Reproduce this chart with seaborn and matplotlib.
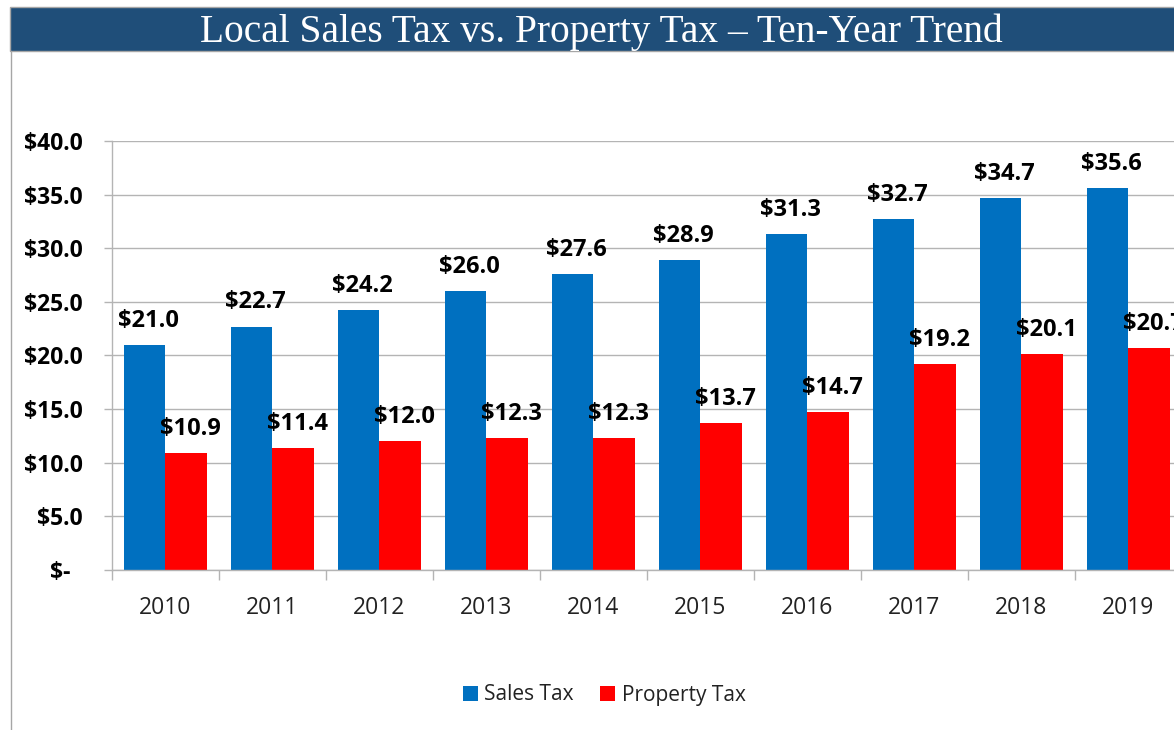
import pandas as pd
import matplotlib
matplotlib.use("Agg")
import matplotlib.pyplot as plt
from matplotlib.patches import Rectangle, Patch
from matplotlib.lines import Line2D
import seaborn as sns

# data
years = ["2010", "2011", "2012", "2013", "2014", "2015", "2016", "2017", "2018", "2019"]
sales_tax = [21.0, 22.7, 24.2, 26.0, 27.6, 28.9, 31.3, 32.7, 34.7, 35.6]
property_tax = [10.9, 11.4, 12.0, 12.3, 12.3, 13.7, 14.7, 19.2, 20.1, 20.7]
series = ["Sales Tax", "Property Tax"]
colors = ["#0070C0", "#FF0000"]
yticks = [0, 5, 10, 15, 20, 25, 30, 35, 40]
ytick_labels = ["\\$-  "] + ["\\$%.1f" % v for v in yticks[1:]]

df = pd.DataFrame({
    "Year": years * 2,
    "Value": sales_tax + property_tax,
    "Series": [series[0]] * len(years) + [series[1]] * len(years),
})

sns.set_theme(style="white")
plt.rcParams["font.family"] = ["Open Sans", "DejaVu Sans"]

fig = plt.figure(figsize=(11.74, 7.30), dpi=100)
ax = fig.add_axes([0.0954, 0.2192, 0.9114, 0.5877])

sns.barplot(data=df, x="Year", y="Value", hue="Series", palette=colors,
            width=0.78, linewidth=0, saturation=1, ax=ax, legend=False)

ax.set_xlim(-0.5, len(years) - 0.5)
ax.set_ylim(0, 40)
ax.set_yticks(yticks)
ax.set_yticklabels(ytick_labels, fontsize=16.5, fontweight="bold", color="black")
ax.yaxis.grid(True, color="#B4B4B4", linewidth=1)
ax.set_axisbelow(True)
ax.tick_params(axis="y", length=6, width=1, color="#B4B4B4", pad=15, direction="out", left=True)

# ticks between categories
ax.set_xticks([i - 0.5 for i in range(len(years) + 1)], minor=True)
ax.tick_params(axis="x", which="minor", length=7.5, width=1, color="#B4B4B4", bottom=True, direction="out")
ax.tick_params(axis="x", which="major", length=0, pad=19, labelsize=16.5, labelcolor="#222222")
ax.set_xlabel("")
ax.set_ylabel("")

for side in ["top", "right"]:
    ax.spines[side].set_visible(False)
for side in ["left", "bottom"]:
    ax.spines[side].set_color("#B4B4B4")
    ax.spines[side].set_linewidth(1)

# value labels
for cont in ax.containers:
    for bar in cont:
        h = bar.get_height()
        ax.annotate("\\$%.1f" % h, (bar.get_x() + bar.get_width() / 2, h),
                    xytext=(3, 13), textcoords="offset points",
                    ha="center", va="baseline", fontsize=17,
                    fontweight="bold", color="black", annotation_clip=False)

# title banner
fig.patches.append(Rectangle((10 / 1174, (730 - 51) / 730), 1.0, 44 / 730,
                             transform=fig.transFigure, facecolor="#1F4E79",
                             edgecolor="#A6A6A6", linewidth=1, zorder=0))
fig.text(601 / 1174, (730 - 42) / 730, "Local Sales Tax vs. Property Tax \u2013 Ten-Year Trend",
         ha="center", va="baseline", color="white", fontsize=28.4,
         family=["Liberation Serif", "DejaVu Serif"])
fig.lines.append(Line2D([11 / 1174, 11 / 1174], [0, (730 - 51) / 730],
                        transform=fig.transFigure, color="#A6A6A6", linewidth=1))

handles = [Patch(facecolor=c, edgecolor="none", label=s) for c, s in zip(colors, series)]
fig.legend(handles=handles, loc="center", bbox_to_anchor=(604 / 1174, (730 - 695) / 730),
           ncol=2, frameon=False, fontsize=15, handlelength=0.72, handleheight=0.72,
           handletextpad=0.3, columnspacing=1.3, labelcolor="#222222")

fig.savefig("out.png", dpi=100, facecolor="white")
